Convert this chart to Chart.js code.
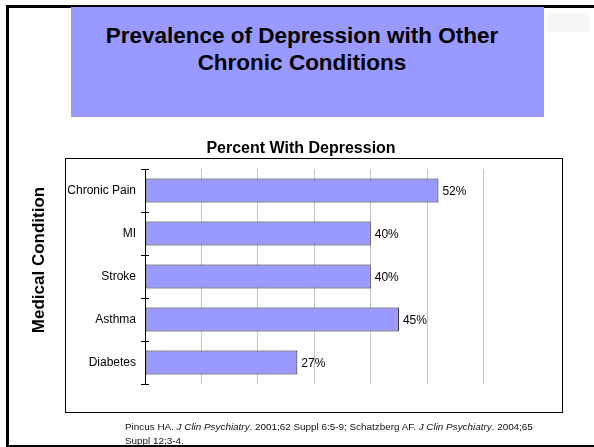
<!DOCTYPE html>
<html>
<head>
<meta charset="utf-8">
<script src="https://cdn.jsdelivr.net/npm/chart.js@4.4.0/dist/chart.umd.min.js"></script>
<style>
  html, body { margin: 0; padding: 0; background: #fff; }
  body { width: 594px; height: 447px; overflow: hidden; position: relative; font-family: Arial, "Liberation Sans", sans-serif; }
  .abs { position: absolute; }
  #slide { left: 6px; top: 5px; width: 700px; height: 437px; border: 3px solid #000; }
  #ghost { left: 547px; top: 13px; width: 42px; height: 19px; background: #f7f7f7; }
  #band { left: 71px; top: 7px; width: 473px; height: 110px; background: #9999FF; }
  #heading { left: 71px; top: 22px; width: 462px; text-align: center; font-weight: bold; font-size: 22.5px; line-height: 27px; color: #000; }
  #frame { left: 65px; top: 158px; width: 496px; height: 253px; border: 1px solid #000; }
  #chart { left: 0; top: 0; }
  #note { left: 125px; top: 420px; font-size: 9.9px; line-height: 14px; color: #111; white-space: nowrap; }
</style>
</head>
<body>
<div id="slide" class="abs"></div>
<div id="ghost" class="abs"></div>
<div id="band" class="abs"></div>
<div id="heading" class="abs">Prevalence of Depression with Other<br>Chronic Conditions</div>
<div id="frame" class="abs"></div>
<canvas id="chart" class="abs" width="602" height="447"></canvas>
<div id="note" class="abs">Pincus HA. <i>J Clin Psychiatry</i>. 2001;62 Suppl 6:5-9; Schatzberg AF. <i>J Clin Psychiatry</i>. 2004;65<br>Suppl 12;3-4.</div>
<script>
const conditions = ["Chronic Pain", "MI", "Stroke", "Asthma", "Diabetes"];
const percentWithDepression = [52, 40, 40, 45, 27];
const chartTitle = "Percent With Depression";
const axisTitle = "Medical Condition";
const xMin = 0, xMax = 70, xStep = 10;

const FONT = "Arial, 'Liberation Sans', sans-serif";

const valueLabels = {
  id: 'valueLabels',
  afterDatasetsDraw(chart) {
    const ctx = chart.ctx;
    const meta = chart.getDatasetMeta(0);
    ctx.save();
    ctx.font = "12px " + FONT;
    ctx.fillStyle = "#000";
    ctx.textAlign = "left";
    ctx.textBaseline = "middle";
    meta.data.forEach((bar, i) => {
      ctx.fillText(chart.data.datasets[0].data[i] + "%", bar.x + 4, bar.y + 1);
    });
    ctx.restore();
  }
};

const crossTicks = {
  id: 'crossTicks',
  afterDraw(chart) {
    const s = chart.scales.y;
    const ctx = chart.ctx;
    const x0 = s.right;
    ctx.save();
    ctx.strokeStyle = "#000";
    ctx.lineWidth = 1;
    for (let i = 0; i <= conditions.length; i++) {
      const y = Math.round(s.getPixelForValue(i - 0.5)) + 0.5;
      ctx.beginPath();
      ctx.moveTo(x0 - 4, y);
      ctx.lineTo(x0 + 4, y);
      ctx.stroke();
    }
    ctx.restore();
  }
};

new Chart(document.getElementById('chart'), {
  type: 'bar',
  data: {
    labels: conditions,
    datasets: [{
      data: percentWithDepression,
      backgroundColor: '#9999FF',
      borderColor: '#1a1a1a',
      borderWidth: 1,
      borderSkipped: false,
      barPercentage: 0.56,
      categoryPercentage: 1
    }]
  },
  options: {
    indexAxis: 'y',
    responsive: false,
    animation: false,
    devicePixelRatio: 1,
    layout: { padding: { top: 138.5, left: 0, right: 0, bottom: 63 } },
    plugins: {
      legend: { display: false },
      tooltip: { enabled: false },
      title: {
        display: true,
        text: chartTitle,
        color: '#000',
        font: { family: FONT, size: 16, weight: 'bold' },
        padding: { top: 0, bottom: 11.3 }
      }
    },
    scales: {
      x: {
        type: 'linear',
        position: 'bottom',
        min: xMin, max: xMax,
        ticks: { display: false, stepSize: xStep },
        grid: {
          drawTicks: false,
          color: (c) => (c.tick && (c.tick.value === xMin || c.tick.value === xMax)) ? 'rgba(0,0,0,0)' : '#c4c4c4'
        },
        border: { display: false },
        afterFit(s) { s.height = 0; }
      },
      y: {
        type: 'category',
        position: 'left',
        grid: { display: false },
        border: { display: true, color: '#000', width: 1 },
        ticks: { color: '#000', font: { family: FONT, size: 12 }, padding: 1 },
        title: {
          display: true,
          text: '       ' + axisTitle,
          color: '#000',
          font: { family: FONT, size: 17, weight: 'bold' },
          padding: { top: 29, bottom: 0 }
        },
        afterFit(s) { s.width = 145; }
      },
      r: {
        type: 'linear',
        position: 'right',
        display: true,
        ticks: { display: false },
        grid: { display: false },
        border: { display: false },
        afterFit(s) { s.width = 62; }
      }
    }
  },
  plugins: [valueLabels, crossTicks]
});
</script>
</body>
</html>
